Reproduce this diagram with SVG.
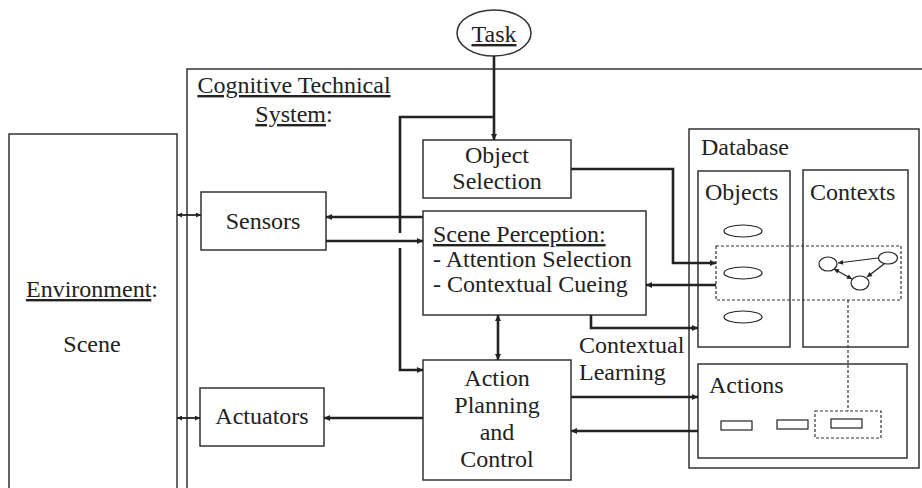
<svg xmlns="http://www.w3.org/2000/svg" width="922" height="488" viewBox="0 0 922 488" font-family="'Liberation Serif', 'Times New Roman', 'DejaVu Serif', serif">
  <style>
    .box { fill: #fff; stroke: #333; stroke-width: 1.5; }
    .frame { fill: none; stroke: #333; stroke-width: 1.5; }
    text { font-family: 'Liberation Serif', 'Times New Roman', 'DejaVu Serif', serif; font-size: 24px; fill: #222; }
    .mid { text-anchor: middle; }
    .u { text-decoration: underline; }
    .wire { fill: none; stroke: #222; stroke-width: 2.6; }
    .thin { fill: none; stroke: #222; stroke-width: 1.8; }
    .hair { fill: none; stroke: #222; stroke-width: 1.2; }
    .dash { fill: none; stroke: #333; stroke-width: 1.2; stroke-dasharray: 3 2; }
  </style>
  <defs>
    <marker id="ah" viewBox="0 0 10 10" refX="10" refY="5" markerWidth="8" markerHeight="6" markerUnits="userSpaceOnUse" orient="auto-start-reverse">
      <path d="M0,0 L10,5 L0,10 Z" fill="#222"/>
    </marker>
    <marker id="ahs" viewBox="0 0 10 10" refX="10" refY="5" markerWidth="7" markerHeight="5" markerUnits="userSpaceOnUse" orient="auto-start-reverse">
      <path d="M0,0 L10,5 L0,10 Z" fill="#222"/>
    </marker>
  </defs>

  <!-- enclosing system frame -->
  <g id="cts">
    <rect class="frame" x="187" y="69" width="760" height="440"/>
    <text class="mid" x="294" y="93"><tspan class="u">Cognitive Technical</tspan></text>
    <text class="mid" x="294" y="122"><tspan class="u">System</tspan>:</text>
  </g>

  <g id="environment">
    <rect class="box" x="9" y="134" width="168" height="380"/>
    <text class="mid" x="92" y="297"><tspan class="u">Environment</tspan>:</text>
    <text class="mid" x="92" y="352">Scene</text>
  </g>

  <g id="task">
    <ellipse class="box" cx="494" cy="33" rx="37" ry="23"/>
    <text class="mid" x="494" y="42"><tspan class="u">Task</tspan></text>
  </g>

  <g id="object-selection">
    <rect class="box" x="423" y="140" width="148" height="58"/>
    <text class="mid" x="497" y="163">Object</text>
    <text class="mid" x="497" y="189">Selection</text>
  </g>

  <g id="sensors">
    <rect class="box" x="201" y="192" width="125" height="58"/>
    <text class="mid" x="263" y="229">Sensors</text>
  </g>

  <g id="scene-perception">
    <rect class="box" x="423" y="211" width="223" height="104"/>
    <text x="433" y="242"><tspan class="u">Scene Perception:</tspan></text>
    <text x="433" y="267">- Attention Selection</text>
    <text x="433" y="292">- Contextual Cueing</text>
  </g>

  <g id="action-planning">
    <rect class="box" x="423" y="360" width="148" height="120"/>
    <text class="mid" x="497" y="386">Action</text>
    <text class="mid" x="497" y="413">Planning</text>
    <text class="mid" x="497" y="440">and</text>
    <text class="mid" x="497" y="467">Control</text>
  </g>

  <g id="actuators">
    <rect class="box" x="200" y="388" width="124" height="58"/>
    <text class="mid" x="262" y="424">Actuators</text>
  </g>

  <g id="contextual-learning">
    <text x="579" y="353">Contextual</text>
    <text x="579" y="380">Learning</text>
  </g>

  <g id="database">
    <rect class="box" x="689" y="129" width="230" height="339"/>
    <text x="701" y="155">Database</text>
  </g>

  <g id="objects">
    <rect class="box" x="698" y="171" width="92" height="176"/>
    <text x="705" y="200">Objects</text>
    <ellipse class="hair" cx="743" cy="231" rx="19" ry="6"/>
    <ellipse class="hair" cx="743" cy="273" rx="19" ry="6"/>
    <ellipse class="hair" cx="743" cy="317" rx="19" ry="6"/>
  </g>

  <g id="contexts">
    <rect class="box" x="803" y="170" width="105" height="177"/>
    <text x="810" y="200">Contexts</text>
    <ellipse class="hair" cx="828" cy="264" rx="9" ry="7"/>
    <ellipse class="hair" cx="888" cy="258" rx="9.5" ry="6"/>
    <ellipse class="hair" cx="860" cy="283" rx="9" ry="7"/>
    <line class="hair" x1="878" y1="258" x2="838" y2="263" marker-end="url(#ahs)"/>
    <line class="hair" x1="884" y1="264" x2="867" y2="277" marker-end="url(#ahs)"/>
    <line class="hair" x1="834" y1="269" x2="852" y2="279" marker-start="url(#ahs)" marker-end="url(#ahs)"/>
  </g>

  <g id="actions">
    <rect class="box" x="698" y="364" width="209" height="94"/>
    <text x="709" y="393">Actions</text>
    <rect class="hair" x="721" y="421" width="31" height="9"/>
    <rect class="hair" x="777" y="420" width="31" height="9"/>
    <rect class="hair" x="831" y="419" width="31" height="9"/>
  </g>

  <!-- context selection and its link to the active action -->
  <g id="selection-marks">
    <rect class="dash" x="716" y="246" width="185" height="54"/>
    <line class="dash" x1="848" y1="300" x2="848" y2="411"/>
    <rect class="dash" x="815" y="411" width="66" height="27"/>
  </g>

  <g id="connectors">
    <!-- task to object selection, with branch to action planning -->
    <line class="wire" x1="494" y1="56" x2="494" y2="140" marker-end="url(#ah)"/>
    <path class="wire" d="M494,117 H400 V233"/>
    <path class="wire" d="M400,248 V370 H423" marker-end="url(#ah)"/>
    <!-- sensors exchange -->
    <line class="wire" x1="423" y1="217" x2="326" y2="217" marker-end="url(#ah)"/>
    <line class="wire" x1="326" y1="241" x2="423" y2="241" marker-end="url(#ah)"/>
    <line class="thin" x1="177" y1="215" x2="201" y2="215" marker-start="url(#ahs)" marker-end="url(#ahs)"/>
    <!-- object selection to database objects -->
    <path class="wire" d="M571,169 H673 V263 H716" marker-end="url(#ah)"/>
    <!-- contextual cueing back to scene perception -->
    <line class="wire" x1="716" y1="285" x2="646" y2="285" marker-end="url(#ah)"/>
    <!-- contextual learning -->
    <path class="wire" d="M591,315 V328 H698" marker-end="url(#ah)"/>
    <!-- scene perception and action planning -->
    <line class="wire" x1="498" y1="315" x2="498" y2="360" marker-start="url(#ah)" marker-end="url(#ah)"/>
    <!-- action planning and actions -->
    <line class="wire" x1="571" y1="397" x2="698" y2="397" marker-end="url(#ah)"/>
    <line class="wire" x1="698" y1="431" x2="571" y2="431" marker-end="url(#ah)"/>
    <!-- actuators -->
    <line class="wire" x1="423" y1="418" x2="324" y2="418" marker-end="url(#ah)"/>
    <line class="thin" x1="177" y1="418" x2="200" y2="418" marker-start="url(#ahs)" marker-end="url(#ahs)"/>
  </g>
</svg>
